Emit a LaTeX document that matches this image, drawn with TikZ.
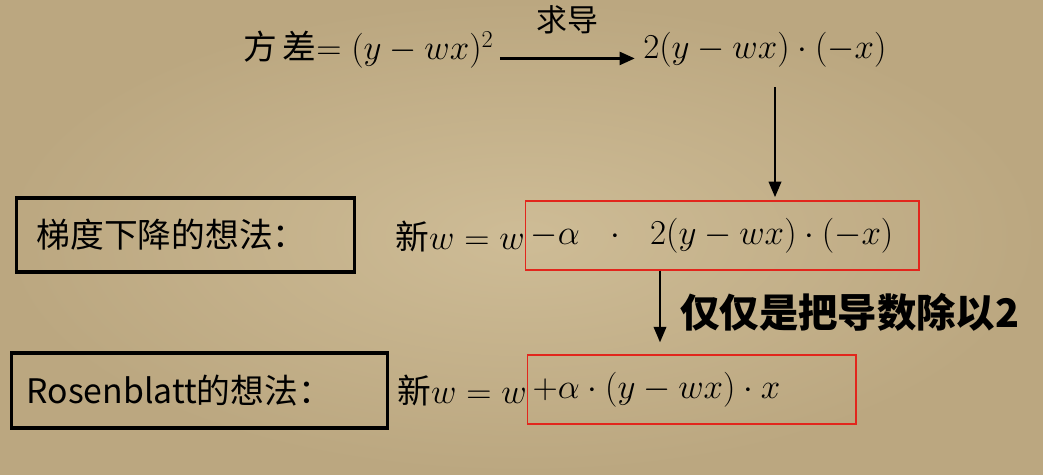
\documentclass[tikz,border=0pt]{standalone}
\usepackage{fontspec}
\usepackage{amsmath}
\usetikzlibrary{arrows.meta,positioning,calc}
\newfontfamily\cjk{Noto Sans CJK SC}
\definecolor{slidemid}{HTML}{CEBC96}
\definecolor{slideedge}{HTML}{BBA780}
\definecolor{hlred}{HTML}{E2261C}

\begin{document}
\begin{tikzpicture}[x=0.025cm, y=-0.025cm,
  eq/.style={inner sep=0pt, font=\fontsize{24}{28}\selectfont},
  lbl/.style={inner sep=0pt, font=\cjk\fontsize{22}{26}\selectfont},
  idea/.style={draw, line width=2.2pt, inner ysep=0pt, anchor=west, align=left, font=\cjk\fontsize{24}{28}\selectfont},
  hl/.style={eq, draw=hlred, line width=1pt, anchor=west, inner xsep=0.125cm, align=left, minimum height=1.725cm},
  remark/.style={inner sep=0pt, anchor=west, font=\cjk\bfseries\fontsize{28}{32}\selectfont},
  arr/.style={-{Triangle[length=11pt, width=9pt]}, line width=1.2pt}]
  % slide background
  \shade[inner color=slidemid, outer color=slideedge] (0,0) rectangle (1043,474);
  \useasboundingbox (0,0) rectangle (1043,474);
  % top line: the variance and its derivative
  \node[eq, anchor=west] (var) at (243,50) {{\cjk 方\,差}$=(y-wx)^2$};
  \node[eq, anchor=west] (grad) at (643,50) {$2(y-wx)\cdot(-x)$};
  \draw[arr, line width=2.4pt] ([xshift=0.15cm, yshift=-6pt]var.east) -- node[lbl, above=16pt] (dlbl) {求导} ([xshift=-0.2cm, yshift=-6pt]grad.west);
  % the two ideas
  \node[idea, minimum height=1.85cm, text width=7.45cm, inner xsep=0.5cm] (gd) at (15,235) {梯度下降的想法：};
  \node[idea, minimum height=1.875cm, text width=8.65cm, inner xsep=0.375cm] (rb) at (10,390.5) {Rosenblatt的想法：};
  \node[eq, anchor=east] (w1) at (525,237) {{\cjk 新}$w=w$};
  \node[hl, text width=9.575cm] (r1) at (525,235.5) {$-\alpha\ \ \cdot\ \ 2(y-wx)\cdot(-x)$};
  \node[eq, anchor=east] (w2) at (527,391) {{\cjk 新}$w=w$};
  \node[hl, text width=7.95cm] (r2) at (527,389.5) {$+\alpha\cdot(y-wx)\cdot x$};
  % arrows down
  \coordinate (dx1) at (775,0);
  \coordinate (dx2) at (660,0);
  \draw[arr] ([yshift=-14pt]grad.south -| dx1) -- ([yshift=0.08cm]r1.north -| dx1);
  \draw[arr] (r1.south -| dx2) -- ([yshift=0.3cm]r2.north -| dx2);
  \node[remark] (tip) at (680,312) {仅仅是把导数除以2};
\end{tikzpicture}
\end{document}
